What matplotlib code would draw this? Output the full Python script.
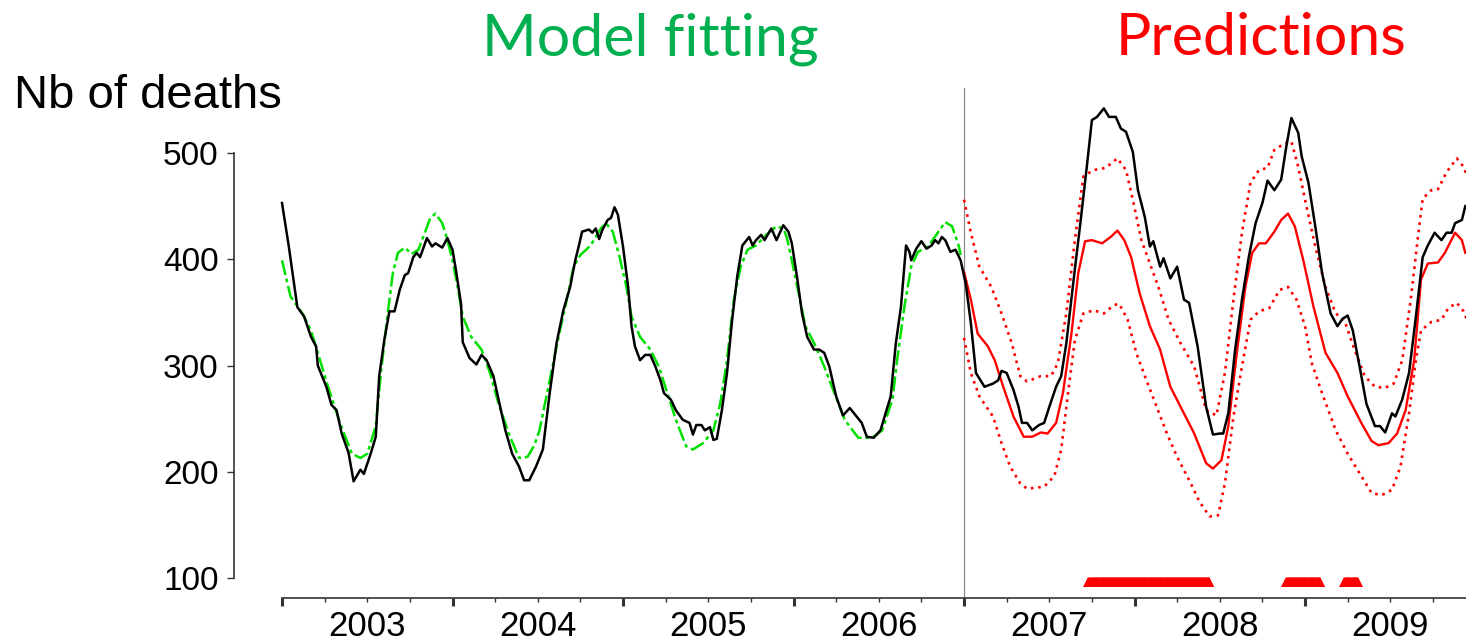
import matplotlib
matplotlib.use("Agg")
import matplotlib.pyplot as plt
import numpy as np

# observed weekly deaths (smoothed), decimal years
obs_t = [2003.00, 2003.04, 2003.09, 2003.13, 2003.17, 2003.20, 2003.21, 2003.26, 2003.29, 2003.32,
         2003.35, 2003.39, 2003.42, 2003.46, 2003.48, 2003.52, 2003.55, 2003.57, 2003.60, 2003.63,
         2003.66, 2003.69, 2003.72, 2003.74, 2003.77, 2003.79, 2003.81, 2003.85, 2003.88, 2003.90,
         2003.94, 2003.97, 2004.00, 2004.02, 2004.05, 2004.06, 2004.10, 2004.14, 2004.17, 2004.20,
         2004.24, 2004.27, 2004.31, 2004.35, 2004.39, 2004.42, 2004.45, 2004.49, 2004.53, 2004.57,
         2004.61, 2004.65, 2004.69, 2004.72, 2004.74, 2004.76, 2004.80, 2004.82, 2004.84, 2004.86,
         2004.88, 2004.91, 2004.93, 2004.95, 2004.97, 2005.00, 2005.03, 2005.05, 2005.07, 2005.10,
         2005.13, 2005.16, 2005.19, 2005.22, 2005.24, 2005.28, 2005.31, 2005.35, 2005.39, 2005.41,
         2005.43, 2005.46, 2005.48, 2005.51, 2005.53, 2005.55, 2005.58, 2005.61, 2005.64, 2005.67,
         2005.70, 2005.74, 2005.76, 2005.78, 2005.81, 2005.83, 2005.87, 2005.90, 2005.94, 2005.97,
         2005.99, 2006.02, 2006.05, 2006.08, 2006.12, 2006.15, 2006.18, 2006.21, 2006.25, 2006.29,
         2006.33, 2006.37, 2006.40, 2006.43, 2006.47, 2006.51, 2006.54, 2006.57, 2006.60, 2006.63,
         2006.66, 2006.68, 2006.69, 2006.72, 2006.75, 2006.78, 2006.81, 2006.83, 2006.85, 2006.87,
         2006.89, 2006.92, 2006.95, 2006.98, 2007.01, 2007.04, 2007.07, 2007.12, 2007.17, 2007.20,
         2007.22, 2007.25, 2007.29, 2007.32, 2007.34, 2007.37, 2007.40, 2007.44, 2007.47, 2007.50,
         2007.54, 2007.57, 2007.60, 2007.64, 2007.68, 2007.72, 2007.75, 2007.78, 2007.82, 2007.85,
         2007.89, 2007.92, 2007.95, 2007.99, 2008.02, 2008.06, 2008.09, 2008.11, 2008.15, 2008.17,
         2008.21, 2008.25, 2008.29, 2008.32, 2008.37, 2008.42, 2008.46, 2008.50, 2008.52, 2008.55,
         2008.59, 2008.63, 2008.67, 2008.71, 2008.75, 2008.78, 2008.82, 2008.86, 2008.89, 2008.92,
         2008.96, 2008.98, 2009.02, 2009.06, 2009.10, 2009.15, 2009.19, 2009.22, 2009.25, 2009.28,
         2009.32, 2009.36, 2009.41, 2009.44, 2009.47, 2009.51, 2009.53, 2009.57, 2009.61, 2009.65,
         2009.69, 2009.72, 2009.76, 2009.80, 2009.83, 2009.86, 2009.88, 2009.92, 2009.94]
obs_v = [453, 412, 355, 346, 327, 318, 300, 280, 263, 258,
         236, 218, 191, 202, 198, 217, 233, 290, 324, 351,
         351, 371, 385, 387, 402, 406, 402, 420, 412, 415,
         411, 420, 409, 390, 358, 322, 307, 301, 310, 305,
         290, 268, 239, 217, 205, 192, 192, 205, 221, 274,
         321, 352, 374, 399, 412, 426, 428, 425, 429, 419,
         428, 437, 439, 449, 442, 412, 374, 337, 318, 305,
         310, 310, 299, 286, 274, 268, 258, 249, 246, 235,
         244, 244, 239, 242, 230, 231, 258, 293, 343, 384,
         413, 421, 413, 418, 423, 418, 429, 418, 432, 426,
         415, 384, 349, 327, 315, 315, 312, 299, 271, 253,
         260, 252, 246, 233, 232, 239, 255, 271, 321, 355,
         413, 407, 399, 410, 417, 410, 413, 418, 415, 421,
         418, 407, 409, 399, 377, 340, 293, 280, 283, 286,
         295, 293, 277, 261, 246, 246, 239, 244, 246, 261,
         280, 290, 321, 377, 431, 487, 531, 534, 542, 534,
         534, 523, 520, 501, 465, 440, 412, 417, 393, 401,
         382, 393, 362, 359, 318, 261, 235, 236, 236, 255,
         315, 362, 402, 434, 453, 474, 465, 475, 506, 533,
         519, 497, 472, 431, 387, 349, 337, 344, 347, 333,
         299, 264, 243, 243, 237, 255, 252, 268, 293, 346,
         402, 413, 425, 418, 425, 425, 434, 437, 450]

# model fit 2003-2006
fit_t = [2003.00, 2003.05, 2003.12, 2003.17, 2003.21, 2003.27, 2003.34, 2003.41, 2003.46, 2003.50,
         2003.55, 2003.58, 2003.62, 2003.65, 2003.68, 2003.72, 2003.76, 2003.80, 2003.84, 2003.87,
         2003.90, 2003.94, 2003.97, 2004.00, 2004.03, 2004.06, 2004.11, 2004.17, 2004.22, 2004.27,
         2004.33, 2004.39, 2004.44, 2004.48, 2004.51, 2004.57, 2004.63, 2004.67, 2004.71, 2004.75,
         2004.81, 2004.87, 2004.90, 2004.94, 2004.98, 2005.02, 2005.05, 2005.10, 2005.16, 2005.21,
         2005.26, 2005.31, 2005.37, 2005.41, 2005.47, 2005.53, 2005.57, 2005.61, 2005.65, 2005.69,
         2005.73, 2005.78, 2005.84, 2005.90, 2005.94, 2005.96, 2005.99, 2006.03, 2006.07, 2006.13,
         2006.18, 2006.24, 2006.30, 2006.38, 2006.46, 2006.52, 2006.58, 2006.61, 2006.65, 2006.69,
         2006.73, 2006.79, 2006.85, 2006.89, 2006.93, 2006.97, 2006.98]
fit_v = [399, 365, 349, 333, 312, 280, 246, 217, 213, 217,
         243, 293, 349, 387, 406, 411, 405, 409, 426, 439,
         443, 434, 418, 399, 374, 346, 327, 315, 293, 264,
         236, 213, 214, 225, 239, 286, 333, 362, 393, 404,
         413, 429, 434, 426, 402, 374, 346, 327, 315, 299,
         274, 249, 224, 221, 227, 239, 264, 305, 362, 393,
         409, 413, 423, 431, 429, 421, 399, 368, 337, 318,
         299, 274, 249, 232, 232, 239, 268, 308, 355, 393,
         407, 412, 426, 435, 431, 412, 404]

# predictions 2007-2009
pred_t = [2007.00, 2007.04, 2007.08, 2007.14, 2007.18, 2007.23, 2007.29, 2007.35, 2007.40, 2007.45,
          2007.49, 2007.54, 2007.58, 2007.63, 2007.67, 2007.71, 2007.75, 2007.81, 2007.86, 2007.90,
          2007.94, 2007.98, 2008.03, 2008.09, 2008.15, 2008.21, 2008.28, 2008.35, 2008.42, 2008.46,
          2008.51, 2008.55, 2008.60, 2008.65, 2008.69, 2008.73, 2008.77, 2008.82, 2008.86, 2008.90,
          2008.94, 2008.99, 2009.05, 2009.12, 2009.19, 2009.25, 2009.33, 2009.39, 2009.43, 2009.49,
          2009.54, 2009.59, 2009.64, 2009.68, 2009.72, 2009.78, 2009.82, 2009.88, 2009.92, 2009.94]
pred_v = [388, 362, 330, 318, 305, 280, 252, 233, 233, 237,
          236, 246, 274, 330, 387, 417, 418, 415, 421, 427,
          418, 402, 368, 337, 315, 280, 258, 236, 208, 203,
          211, 243, 312, 374, 406, 415, 415, 426, 437, 443,
          431, 399, 355, 312, 293, 271, 246, 229, 225, 227,
          236, 258, 305, 381, 396, 397, 406, 425, 418, 406]

up_t = [2007.00, 2007.04, 2007.09, 2007.16, 2007.22, 2007.28, 2007.33, 2007.37, 2007.45, 2007.51,
        2007.55, 2007.60, 2007.65, 2007.70, 2007.76, 2007.83, 2007.90, 2007.95, 2007.99, 2008.04,
        2008.09, 2008.14, 2008.20, 2008.27, 2008.35, 2008.42, 2008.48, 2008.53, 2008.58, 2008.63,
        2008.68, 2008.73, 2008.78, 2008.82, 2008.88, 2008.92, 2008.96, 2009.00, 2009.06, 2009.12,
        2009.18, 2009.23, 2009.29, 2009.35, 2009.41, 2009.47, 2009.52, 2009.57, 2009.62, 2009.66,
        2009.69, 2009.74, 2009.78, 2009.83, 2009.89, 2009.93, 2009.95]
up_v = [456, 425, 393, 374, 349, 321, 290, 285, 290, 290,
        302, 349, 418, 478, 484, 486, 495, 484, 456, 418,
        396, 374, 343, 321, 299, 258, 253, 293, 362, 425,
        472, 484, 486, 503, 509, 511, 487, 456, 412, 374,
        349, 343, 315, 290, 280, 279, 283, 305, 362, 418,
        457, 465, 466, 482, 495, 487, 478]

low_t = [2007.00, 2007.04, 2007.09, 2007.17, 2007.22, 2007.27, 2007.33, 2007.37, 2007.47, 2007.53,
         2007.57, 2007.61, 2007.65, 2007.70, 2007.76, 2007.82, 2007.88, 2007.91, 2007.96, 2008.01,
         2008.07, 2008.13, 2008.19, 2008.25, 2008.33, 2008.38, 2008.44, 2008.49, 2008.53, 2008.58,
         2008.63, 2008.68, 2008.73, 2008.79, 2008.85, 2008.90, 2008.95, 2009.00, 2009.04, 2009.10,
         2009.18, 2009.25, 2009.33, 2009.39, 2009.45, 2009.51, 2009.56, 2009.61, 2009.65, 2009.68,
         2009.74, 2009.80, 2009.84, 2009.89, 2009.93, 2009.95]
low_v = [326, 293, 271, 252, 227, 205, 189, 184, 186, 196,
         221, 274, 324, 349, 352, 349, 357, 358, 343, 312,
         286, 261, 236, 214, 189, 172, 158, 159, 189, 252,
         299, 343, 351, 354, 371, 374, 362, 337, 302, 274,
         239, 217, 196, 180, 178, 183, 205, 255, 305, 333,
         341, 343, 354, 359, 351, 343]

# alert periods (start, end) in decimal years, flagged daily
alerts = [(2007.73, 2008.44), (2008.89, 2009.09), (2009.23, 2009.31)]
alert_level = 96

years = [2003, 2004, 2005, 2006, 2007, 2008, 2009]
split_year = 2007

fig = plt.figure(figsize=(14.66, 6.43), dpi=100)
ax = fig.add_axes([234/1466, 45/643, 1232/1466, 510/643])

ax.plot(fit_t, fit_v, color='#00e000', lw=1.8, dashes=(6, 1.5, 1.5, 1.5), zorder=3)
ax.plot(up_t, up_v, color='#ff0000', lw=1.9, linestyle=(0, (1, 1.8)), zorder=2)
ax.plot(low_t, low_v, color='#ff0000', lw=1.9, linestyle=(0, (1, 1.8)), zorder=2)
ax.plot(pred_t, pred_v, color='#ff0000', lw=1.7, zorder=3)
ax.plot(obs_t, obs_v, color='black', lw=1.8, zorder=4)

for a, b in alerts:
    days = np.arange(a, b + 1e-6, 1 / 365)
    ax.plot(days, np.full(len(days), alert_level), linestyle='none', marker='^',
            color='#ff0000', ms=6.8, mew=0)

ax.axvline(split_year, color='#8c8c8c', lw=0.9, zorder=1)

ax.set_xlim(2002.7185, 2009.944)
ax.set_ylim(81.2, 561.2)

for s in ['top', 'right']:
    ax.spines[s].set_visible(False)
ax.spines['left'].set_bounds(100, 500)
ax.spines['bottom'].set_bounds(2003, 2009.944)
for s in ['left', 'bottom']:
    ax.spines[s].set_color('#333333')
    ax.spines[s].set_linewidth(1.2)

ax.set_yticks([100, 200, 300, 400, 500])
ax.tick_params(axis='y', length=5, width=1, color='#333333', pad=6, labelsize=24)
for lab in ax.get_yticklabels():
    lab.set_family('Liberation Sans')

mid = [y + 0.5 for y in years]
ax.set_xticks(mid, [str(y) for y in years])
quarters = [y + q for y in years for q in (0.0, 0.25, 0.75)]
ax.set_xticks(quarters, minor=True)
ax.tick_params(axis='x', which='both', length=3, width=1, color='#333333')
ax.tick_params(axis='x', which='major', pad=6, labelsize=25)
for lab in ax.get_xticklabels():
    lab.set_family('Liberation Sans')

sec = ax.secondary_xaxis('bottom')
sec.set_xticks(years, [''] * len(years))
sec.tick_params(length=6, width=2.2, color='#333333')
sec.spines['bottom'].set_visible(False)

fig.text(650/1466, 1 - 55/643, 'Model fitting', color='#00b050', fontsize=42.5,
         family='Lato', ha='center', va='baseline')
fig.text(1261/1466, 1 - 55/643, 'Predictions', color='#ff0000', fontsize=42.5,
         family='Lato', ha='center', va='baseline')
fig.text(14/1466, 1 - 108/643, 'Nb of deaths', color='black', fontsize=34,
         family='Liberation Sans', ha='left', va='baseline')

fig.savefig('out.png', dpi=100)
